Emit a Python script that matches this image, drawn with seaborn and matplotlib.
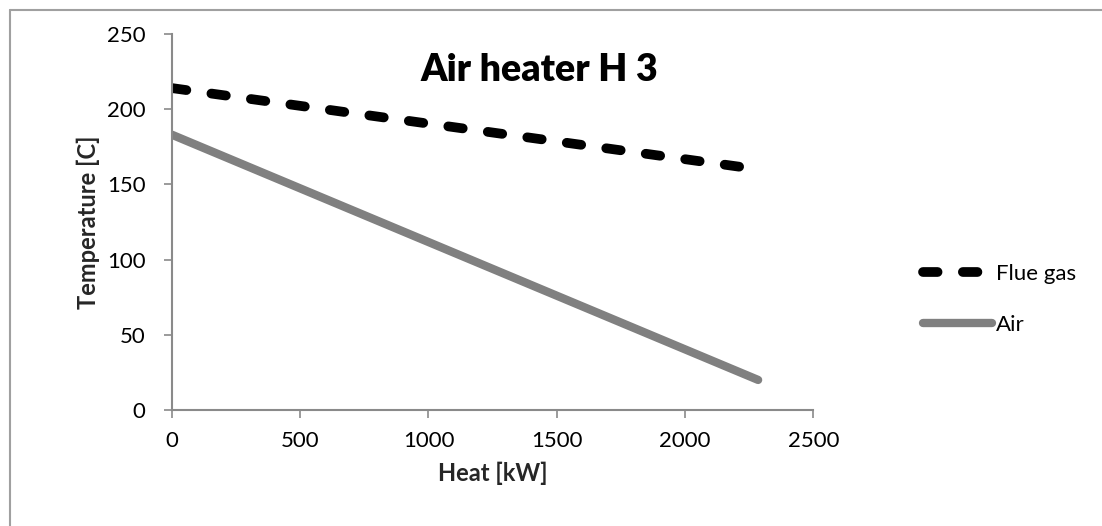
import seaborn as sns
import matplotlib.pyplot as plt
import pandas as pd
from matplotlib.lines import Line2D

# data
heat = [0, 2285]
flue_gas = [214, 160]
air = [183, 20]

x_ticks = [0, 500, 1000, 1500, 2000, 2500]
y_ticks = [0, 50, 100, 150, 200, 250]

sns.set_theme(style="white")
plt.rcParams['font.family'] = ['Lato', 'DejaVu Sans']
plt.rcParams['text.color'] = 'black'

df = pd.DataFrame({'Heat': heat, 'Flue gas': flue_gas, 'Air': air})

fig = plt.figure(figsize=(11.02, 5.26), dpi=100)
ax = fig.add_axes([0.156, 0.2205, 0.582, 0.715])

sns.lineplot(data=df, x='Heat', y='Flue gas', ax=ax, color='black', lw=7,
             linestyle=(0, (1.5, 2.6)), dash_capstyle='round', label='Flue gas')
sns.lineplot(data=df, x='Heat', y='Air', ax=ax, color='#808080', lw=6,
             solid_capstyle='round', label='Air')

ax.set_xlim(0, 2500)
ax.set_ylim(0, 250)
ax.set_xticks(x_ticks)
ax.set_yticks(y_ticks)
ax.tick_params(axis='both', labelsize=16, colors='#8a8a8a', labelcolor='black',
               direction='out', length=6, width=1.2, left=True, bottom=True)
ax.tick_params(axis='y', pad=13)
ax.tick_params(axis='x', pad=9)
for side in ['top', 'right']:
    ax.spines[side].set_visible(False)
for side in ['left', 'bottom']:
    ax.spines[side].set_color('#8a8a8a')
    ax.spines[side].set_linewidth(1.5)

ax.set_xlabel('Heat [kW]', fontsize=17, fontweight='bold', labelpad=8)
ax.set_ylabel('Temperature [C]', fontsize=17, fontweight='bold', labelpad=5)
ax.text(0.573, 0.905, 'Air heater H 3', transform=ax.transAxes, ha='center',
        va='center', fontsize=27, fontweight='heavy')

ax.legend(loc='center left', bbox_to_anchor=(1.14, 0.295), frameon=False,
          fontsize=16, handlelength=3.1, handletextpad=0.2, labelspacing=1.4)

# outer chart border (left and top visible)
fig.add_artist(Line2D([10 / 1102, 10 / 1102], [0, 1 - 10 / 526],
                      transform=fig.transFigure, color='#a0a0a0', lw=1.5))
fig.add_artist(Line2D([10 / 1102, 1], [1 - 10 / 526, 1 - 10 / 526],
                      transform=fig.transFigure, color='#a0a0a0', lw=1.5))

fig.savefig('out.png', dpi=100)
